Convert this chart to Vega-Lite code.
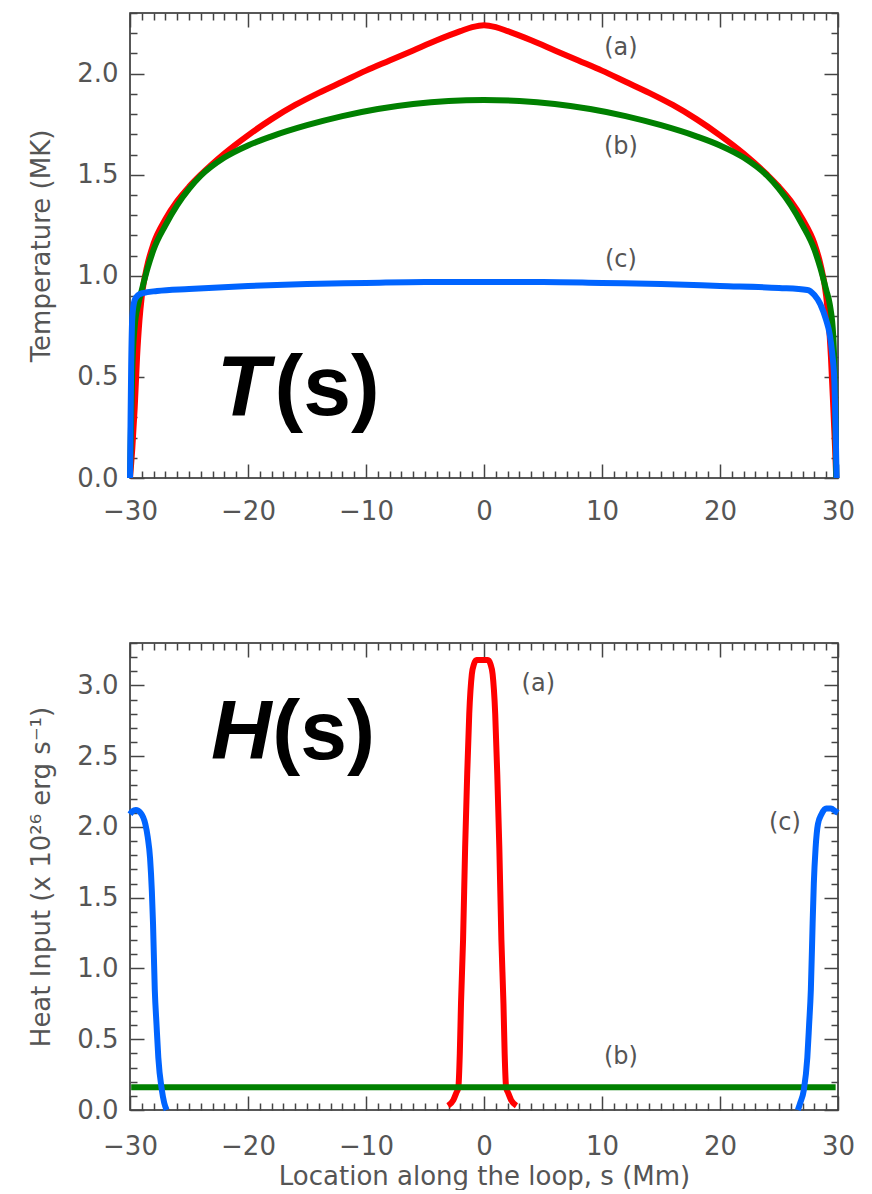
{
  "$schema": "https://vega.github.io/schema/vega-lite/v6.json",
  "background": "white",
  "padding": {"left": 27, "top": 11, "right": 5, "bottom": 0},
  "spacing": 165,
  "bounds": "flush",
  "datasets": {
    "T": [
      {"c":"a","g":"a","s":-30,"v":0},{"c":"a","g":"a","s":-29.8,"v":0.15},{"c":"a","g":"a","s":-29.6,"v":0.35},{"c":"a","g":"a","s":-29.4,"v":0.6},{"c":"a","g":"a","s":-29.2,"v":0.78},{"c":"a","g":"a","s":-29,"v":0.9},{"c":"a","g":"a","s":-28.5,"v":1.06},{"c":"a","g":"a","s":-28,"v":1.16},{"c":"a","g":"a","s":-27,"v":1.28},{"c":"a","g":"a","s":-26,"v":1.37},{"c":"a","g":"a","s":-25,"v":1.44},{"c":"a","g":"a","s":-24,"v":1.5},{"c":"a","g":"a","s":-22,"v":1.605},{"c":"a","g":"a","s":-20,"v":1.695},{"c":"a","g":"a","s":-18,"v":1.775},{"c":"a","g":"a","s":-16,"v":1.845},{"c":"a","g":"a","s":-14,"v":1.905},{"c":"a","g":"a","s":-12,"v":1.96},{"c":"a","g":"a","s":-10,"v":2.015},{"c":"a","g":"a","s":-8,"v":2.065},{"c":"a","g":"a","s":-6,"v":2.115},{"c":"a","g":"a","s":-4,"v":2.165},{"c":"a","g":"a","s":-2,"v":2.21},{"c":"a","g":"a","s":-1,"v":2.23},{"c":"a","g":"a","s":0,"v":2.24},{"c":"a","g":"a","s":1,"v":2.23},{"c":"a","g":"a","s":2,"v":2.21},{"c":"a","g":"a","s":4,"v":2.165},{"c":"a","g":"a","s":6,"v":2.115},{"c":"a","g":"a","s":8,"v":2.065},{"c":"a","g":"a","s":10,"v":2.015},{"c":"a","g":"a","s":12,"v":1.96},{"c":"a","g":"a","s":14,"v":1.905},{"c":"a","g":"a","s":16,"v":1.845},{"c":"a","g":"a","s":18,"v":1.775},{"c":"a","g":"a","s":20,"v":1.695},{"c":"a","g":"a","s":22,"v":1.605},{"c":"a","g":"a","s":24,"v":1.5},{"c":"a","g":"a","s":25,"v":1.44},{"c":"a","g":"a","s":26,"v":1.37},{"c":"a","g":"a","s":27,"v":1.28},{"c":"a","g":"a","s":28,"v":1.16},{"c":"a","g":"a","s":28.5,"v":1.06},{"c":"a","g":"a","s":29,"v":0.9},{"c":"a","g":"a","s":29.2,"v":0.78},{"c":"a","g":"a","s":29.4,"v":0.6},{"c":"a","g":"a","s":29.6,"v":0.35},{"c":"a","g":"a","s":29.75,"v":0.15},{"c":"a","g":"a","s":29.85,"v":0},
      {"c":"b","g":"b","s":-30,"v":0},{"c":"b","g":"b","s":-29.9,"v":0.3},{"c":"b","g":"b","s":-29.8,"v":0.55},{"c":"b","g":"b","s":-29.6,"v":0.75},{"c":"b","g":"b","s":-29.3,"v":0.86},{"c":"b","g":"b","s":-29,"v":0.93},{"c":"b","g":"b","s":-28.5,"v":1.04},{"c":"b","g":"b","s":-28,"v":1.13},{"c":"b","g":"b","s":-27,"v":1.25},{"c":"b","g":"b","s":-26,"v":1.35},{"c":"b","g":"b","s":-25,"v":1.43},{"c":"b","g":"b","s":-24,"v":1.495},{"c":"b","g":"b","s":-22,"v":1.585},{"c":"b","g":"b","s":-20,"v":1.645},{"c":"b","g":"b","s":-18,"v":1.69},{"c":"b","g":"b","s":-15,"v":1.745},{"c":"b","g":"b","s":-12,"v":1.79},{"c":"b","g":"b","s":-9,"v":1.825},{"c":"b","g":"b","s":-6,"v":1.85},{"c":"b","g":"b","s":-3,"v":1.865},{"c":"b","g":"b","s":0,"v":1.87},{"c":"b","g":"b","s":3,"v":1.865},{"c":"b","g":"b","s":6,"v":1.85},{"c":"b","g":"b","s":9,"v":1.825},{"c":"b","g":"b","s":12,"v":1.79},{"c":"b","g":"b","s":15,"v":1.745},{"c":"b","g":"b","s":18,"v":1.69},{"c":"b","g":"b","s":20,"v":1.645},{"c":"b","g":"b","s":22,"v":1.585},{"c":"b","g":"b","s":24,"v":1.495},{"c":"b","g":"b","s":25,"v":1.43},{"c":"b","g":"b","s":26,"v":1.35},{"c":"b","g":"b","s":27,"v":1.25},{"c":"b","g":"b","s":28,"v":1.13},{"c":"b","g":"b","s":28.5,"v":1.04},{"c":"b","g":"b","s":29,"v":0.93},{"c":"b","g":"b","s":29.3,"v":0.86},{"c":"b","g":"b","s":29.6,"v":0.7},{"c":"b","g":"b","s":29.75,"v":0.4},{"c":"b","g":"b","s":29.85,"v":0},
      {"c":"c","g":"c","s":-30,"v":0},{"c":"c","g":"c","s":-29.95,"v":0.3},{"c":"c","g":"c","s":-29.9,"v":0.55},{"c":"c","g":"c","s":-29.8,"v":0.8},{"c":"c","g":"c","s":-29.6,"v":0.88},{"c":"c","g":"c","s":-29.3,"v":0.905},{"c":"c","g":"c","s":-28.9,"v":0.915},{"c":"c","g":"c","s":-27.7,"v":0.925},{"c":"c","g":"c","s":-25,"v":0.935},{"c":"c","g":"c","s":-20,"v":0.95},{"c":"c","g":"c","s":-15,"v":0.96},{"c":"c","g":"c","s":-10,"v":0.965},{"c":"c","g":"c","s":-5,"v":0.97},{"c":"c","g":"c","s":0,"v":0.97},{"c":"c","g":"c","s":5,"v":0.97},{"c":"c","g":"c","s":10,"v":0.965},{"c":"c","g":"c","s":15,"v":0.96},{"c":"c","g":"c","s":20,"v":0.95},{"c":"c","g":"c","s":25,"v":0.94},{"c":"c","g":"c","s":27.4,"v":0.93},{"c":"c","g":"c","s":28,"v":0.905},{"c":"c","g":"c","s":28.5,"v":0.86},{"c":"c","g":"c","s":29,"v":0.78},{"c":"c","g":"c","s":29.3,"v":0.71},{"c":"c","g":"c","s":29.5,"v":0.62},{"c":"c","g":"c","s":29.7,"v":0.47},{"c":"c","g":"c","s":29.8,"v":0.25},{"c":"c","g":"c","s":29.88,"v":0}
    ],
    "H": [
      {"c":"a","g":"a","s":-3.05,"v":0.03},{"c":"a","g":"a","s":-2.6,"v":0.07},{"c":"a","g":"a","s":-2.35,"v":0.12},{"c":"a","g":"a","s":-2.175,"v":0.16},{"c":"a","g":"a","s":-2.05,"v":0.4},{"c":"a","g":"a","s":-1.95,"v":0.75},{"c":"a","g":"a","s":-1.775,"v":1.2},{"c":"a","g":"a","s":-1.6,"v":1.85},{"c":"a","g":"a","s":-1.425,"v":2.37},{"c":"a","g":"a","s":-1.25,"v":2.8},{"c":"a","g":"a","s":-1.03,"v":3.08},{"c":"a","g":"a","s":-0.85,"v":3.15},{"c":"a","g":"a","s":-0.63,"v":3.18},{"c":"a","g":"a","s":0.33,"v":3.18},{"c":"a","g":"a","s":0.55,"v":3.15},{"c":"a","g":"a","s":0.73,"v":3.08},{"c":"a","g":"a","s":0.95,"v":2.8},{"c":"a","g":"a","s":1.125,"v":2.37},{"c":"a","g":"a","s":1.3,"v":1.85},{"c":"a","g":"a","s":1.475,"v":1.2},{"c":"a","g":"a","s":1.65,"v":0.75},{"c":"a","g":"a","s":1.75,"v":0.4},{"c":"a","g":"a","s":1.875,"v":0.16},{"c":"a","g":"a","s":2.05,"v":0.12},{"c":"a","g":"a","s":2.3,"v":0.07},{"c":"a","g":"a","s":2.75,"v":0.03},
      {"c":"b","g":"b","s":-29.9,"v":0.16},{"c":"b","g":"b","s":29.8,"v":0.16},
      {"c":"c","g":"cL","s":-30,"v":2.09},{"c":"c","g":"cL","s":-29.8,"v":2.11},{"c":"c","g":"cL","s":-29.5,"v":2.12},{"c":"c","g":"cL","s":-29.1,"v":2.1},{"c":"c","g":"cL","s":-28.7,"v":2.02},{"c":"c","g":"cL","s":-28.5,"v":1.93},{"c":"c","g":"cL","s":-28.3,"v":1.78},{"c":"c","g":"cL","s":-28.15,"v":1.55},{"c":"c","g":"cL","s":-28.05,"v":1.32},{"c":"c","g":"cL","s":-27.9,"v":0.85},{"c":"c","g":"cL","s":-27.75,"v":0.6},{"c":"c","g":"cL","s":-27.6,"v":0.37},{"c":"c","g":"cL","s":-27.3,"v":0.14},{"c":"c","g":"cL","s":-27.1,"v":0.05},{"c":"c","g":"cL","s":-26.9,"v":0},
      {"c":"c","g":"cR","s":26.6,"v":0},{"c":"c","g":"cR","s":26.8,"v":0.05},{"c":"c","g":"cR","s":27.1,"v":0.14},{"c":"c","g":"cR","s":27.4,"v":0.37},{"c":"c","g":"cR","s":27.55,"v":0.6},{"c":"c","g":"cR","s":27.7,"v":0.85},{"c":"c","g":"cR","s":27.85,"v":1.32},{"c":"c","g":"cR","s":27.95,"v":1.6},{"c":"c","g":"cR","s":28.1,"v":1.85},{"c":"c","g":"cR","s":28.3,"v":2.02},{"c":"c","g":"cR","s":28.6,"v":2.09},{"c":"c","g":"cR","s":29,"v":2.13},{"c":"c","g":"cR","s":29.4,"v":2.13},{"c":"c","g":"cR","s":29.8,"v":2.11},{"c":"c","g":"cR","s":30,"v":2.1}
    ],
    "lblT": [
      {"s":11.6,"v":2.125,"t":"(a)"},{"s":11.6,"v":1.636,"t":"(b)"},{"s":11.6,"v":1.078,"t":"(c)"}
    ],
    "lblH": [
      {"s":4.6,"v":3.007,"t":"(a)"},{"s":11.6,"v":0.373,"t":"(b)"},{"s":25.5,"v":2.03,"t":"(c)"}
    ],
    "bigT1": [{"s":-18.2,"v":0.311,"t":"T"}],
    "bigT2": [{"s":-17.75,"v":0.311,"t":"(s)"}],
    "bigH1": [{"s":-18.0,"v":2.48,"t":"H"}],
    "bigH2": [{"s":-17.95,"v":2.48,"t":"(s)"}]
  },
  "vconcat": [
    {
      "width": 708,
      "height": 465,
      "layer": [
        {
          "data": {"name": "T"},
          "mark": {"type": "line", "strokeWidth": 6, "interpolate": "monotone"},
          "encoding": {
            "x": {"field": "s", "type": "quantitative", "scale": {"domain": [-30, 30], "nice": false, "zero": false},
              "axis": {"orient": "bottom", "values": [-30, -20, -10, 0, 10, 20, 30], "format": "d", "ticks": false, "labelPadding": 20, "labelFlush": false, "labelOverlap": false, "title": null}},
            "y": {"field": "v", "type": "quantitative", "scale": {"domain": [0, 2.3], "nice": false, "zero": false},
              "axis": {"orient": "left", "values": [0, 0.5, 1, 1.5, 2], "format": ".1f", "ticks": false, "labelPadding": 12, "labelBaseline": "middle", "title": "Temperature (MK)", "titlePadding": 22}},
            "color": {"field": "c", "type": "nominal", "scale": {"domain": ["a", "b", "c"], "range": ["#ff0000", "#008000", "#0064ff"]}, "legend": null},
            "detail": {"field": "g"}
          }
        },
        {
          "data": {"name": "lblT"},
          "mark": {"type": "text", "font": "DejaVu Sans", "fontSize": 24, "color": "#555", "align": "center", "baseline": "middle"},
          "encoding": {
            "x": {"field": "s", "type": "quantitative",
              "axis": {"orient": "top", "values": [-30,-29,-28,-27,-26,-25,-24,-23,-22,-21,-20,-19,-18,-17,-16,-15,-14,-13,-12,-11,-10,-9,-8,-7,-6,-5,-4,-3,-2,-1,0,1,2,3,4,5,6,7,8,9,10,11,12,13,14,15,16,17,18,19,20,21,22,23,24,25,26,27,28,29,30], "labels": false, "title": null,
                "tickSize": {"condition": {"test": "datum.value % 10 === 0", "value": -14}, "value": -7}}},
            "y": {"field": "v", "type": "quantitative",
              "axis": {"orient": "right", "values": [0,0.1,0.2,0.3,0.4,0.5,0.6,0.7,0.8,0.9,1,1.1,1.2,1.3,1.4,1.5,1.6,1.7,1.8,1.9,2,2.1,2.2,2.3], "labels": false, "title": null,
                "tickSize": {"condition": {"test": "round(datum.value*10) % 5 === 0", "value": -14}, "value": -7}}},
            "text": {"field": "t"}
          }
        },
        {
          "data": {"name": "bigT1"},
          "mark": {"type": "text", "font": "Liberation Sans", "fontSize": 86, "fontWeight": "bold", "fontStyle": "italic", "color": "black", "align": "right", "baseline": "alphabetic"},
          "encoding": {
            "x": {"field": "s", "type": "quantitative",
              "axis": {"orient": "bottom", "values": [-30,-29,-28,-27,-26,-25,-24,-23,-22,-21,-20,-19,-18,-17,-16,-15,-14,-13,-12,-11,-10,-9,-8,-7,-6,-5,-4,-3,-2,-1,0,1,2,3,4,5,6,7,8,9,10,11,12,13,14,15,16,17,18,19,20,21,22,23,24,25,26,27,28,29,30], "labels": false, "title": null,
                "tickSize": {"condition": {"test": "datum.value % 10 === 0", "value": -14}, "value": -7}}},
            "y": {"field": "v", "type": "quantitative",
              "axis": {"orient": "left", "values": [0,0.1,0.2,0.3,0.4,0.5,0.6,0.7,0.8,0.9,1,1.1,1.2,1.3,1.4,1.5,1.6,1.7,1.8,1.9,2,2.1,2.2,2.3], "labels": false, "title": null,
                "tickSize": {"condition": {"test": "round(datum.value*10) % 5 === 0", "value": -14}, "value": -7}}},
            "text": {"field": "t"}
          }
        },
        {
          "data": {"name": "bigT2"},
          "mark": {"type": "text", "font": "Liberation Sans", "fontSize": 86, "fontWeight": "bold", "color": "black", "align": "left", "baseline": "alphabetic"},
          "encoding": {
            "x": {"field": "s", "type": "quantitative", "axis": null},
            "y": {"field": "v", "type": "quantitative", "axis": null},
            "text": {"field": "t"}
          }
        }
      ],
      "resolve": {"axis": {"x": "independent", "y": "independent"}}
    },
    {
      "width": 708,
      "height": 467,
      "layer": [
        {
          "data": {"name": "H"},
          "mark": {"type": "line", "strokeWidth": 6, "interpolate": "monotone"},
          "encoding": {
            "x": {"field": "s", "type": "quantitative", "scale": {"domain": [-30, 30], "nice": false, "zero": false},
              "axis": {"orient": "bottom", "values": [-30, -20, -10, 0, 10, 20, 30], "format": "d", "ticks": false, "labelPadding": 23, "labelFlush": false, "labelOverlap": false, "title": "Location along the loop, s (Mm)", "titlePadding": 4}},
            "y": {"field": "v", "type": "quantitative", "scale": {"domain": [0, 3.3], "nice": false, "zero": false},
              "axis": {"orient": "left", "values": [0, 0.5, 1, 1.5, 2, 2.5, 3], "format": ".1f", "ticks": false, "labelPadding": 12, "labelBaseline": "middle", "title": "Heat Input (x 10²⁶ erg s⁻¹)", "titlePadding": 22}},
            "color": {"field": "c", "type": "nominal", "scale": {"domain": ["a", "b", "c"], "range": ["#ff0000", "#008000", "#0064ff"]}, "legend": null},
            "detail": {"field": "g"}
          }
        },
        {
          "data": {"name": "lblH"},
          "mark": {"type": "text", "font": "DejaVu Sans", "fontSize": 24, "color": "#555", "align": "center", "baseline": "middle"},
          "encoding": {
            "x": {"field": "s", "type": "quantitative",
              "axis": {"orient": "top", "values": [-30,-29,-28,-27,-26,-25,-24,-23,-22,-21,-20,-19,-18,-17,-16,-15,-14,-13,-12,-11,-10,-9,-8,-7,-6,-5,-4,-3,-2,-1,0,1,2,3,4,5,6,7,8,9,10,11,12,13,14,15,16,17,18,19,20,21,22,23,24,25,26,27,28,29,30], "labels": false, "title": null,
                "tickSize": {"condition": {"test": "datum.value % 10 === 0", "value": -14}, "value": -7}}},
            "y": {"field": "v", "type": "quantitative",
              "axis": {"orient": "right", "values": [0,0.1,0.2,0.3,0.4,0.5,0.6,0.7,0.8,0.9,1,1.1,1.2,1.3,1.4,1.5,1.6,1.7,1.8,1.9,2,2.1,2.2,2.3,2.4,2.5,2.6,2.7,2.8,2.9,3,3.1,3.2,3.3], "labels": false, "title": null,
                "tickSize": {"condition": {"test": "round(datum.value*10) % 5 === 0", "value": -14}, "value": -7}}},
            "text": {"field": "t"}
          }
        },
        {
          "data": {"name": "bigH1"},
          "mark": {"type": "text", "font": "Liberation Sans", "fontSize": 84, "fontWeight": "bold", "fontStyle": "italic", "color": "black", "align": "right", "baseline": "alphabetic"},
          "encoding": {
            "x": {"field": "s", "type": "quantitative",
              "axis": {"orient": "bottom", "values": [-30,-29,-28,-27,-26,-25,-24,-23,-22,-21,-20,-19,-18,-17,-16,-15,-14,-13,-12,-11,-10,-9,-8,-7,-6,-5,-4,-3,-2,-1,0,1,2,3,4,5,6,7,8,9,10,11,12,13,14,15,16,17,18,19,20,21,22,23,24,25,26,27,28,29,30], "labels": false, "title": null,
                "tickSize": {"condition": {"test": "datum.value % 10 === 0", "value": -14}, "value": -7}}},
            "y": {"field": "v", "type": "quantitative",
              "axis": {"orient": "left", "values": [0,0.1,0.2,0.3,0.4,0.5,0.6,0.7,0.8,0.9,1,1.1,1.2,1.3,1.4,1.5,1.6,1.7,1.8,1.9,2,2.1,2.2,2.3,2.4,2.5,2.6,2.7,2.8,2.9,3,3.1,3.2,3.3], "labels": false, "title": null,
                "tickSize": {"condition": {"test": "round(datum.value*10) % 5 === 0", "value": -14}, "value": -7}}},
            "text": {"field": "t"}
          }
        },
        {
          "data": {"name": "bigH2"},
          "mark": {"type": "text", "font": "Liberation Sans", "fontSize": 84, "fontWeight": "bold", "color": "black", "align": "left", "baseline": "alphabetic"},
          "encoding": {
            "x": {"field": "s", "type": "quantitative", "axis": null},
            "y": {"field": "v", "type": "quantitative", "axis": null},
            "text": {"field": "t"}
          }
        }
      ],
      "resolve": {"axis": {"x": "independent", "y": "independent"}}
    }
  ],
  "config": {
    "view": {"stroke": "#222", "strokeWidth": 1.5},
    "axis": {
      "grid": false,
      "domain": false,
      "labelFont": "DejaVu Sans",
      "titleFont": "DejaVu Sans",
      "labelColor": "#555",
      "titleColor": "#555",
      "labelFontSize": 26,
      "titleFontSize": 26,
      "titleFontWeight": "normal",
      "tickColor": "#444",
      "tickWidth": 1.5
    }
  }
}
